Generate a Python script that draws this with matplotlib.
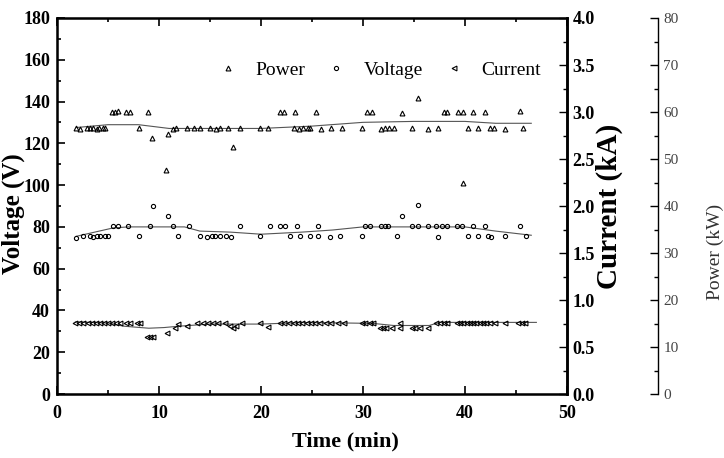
import numpy as np
import matplotlib.pyplot as plt
from matplotlib.ticker import MultipleLocator

plt.rcParams['font.family'] = ['Liberation Serif', 'DejaVu Serif']

# power points (min, kW)
power_t = [1.9, 2.3, 2.9, 3.2, 3.5, 3.9, 4.1, 4.5, 4.7, 8.0,
           5.4, 5.7, 6.0, 6.8, 7.2, 8.95,
           9.3, 10.9, 10.7, 17.3,
           11.4, 11.7, 12.7, 13.4, 14.0, 15.0, 15.6, 16.0, 16.8, 17.9, 19.9, 20.7,
           23.2, 23.7, 24.1, 24.6,
           21.9, 22.3, 23.3,
           25.4, 30.4, 30.9, 33.8, 37.9, 38.2, 39.3, 39.8, 40.8, 42.0, 45.4,
           35.4,
           24.8, 25.9, 26.9, 27.9, 29.9, 31.8, 32.2, 32.6, 33.0, 34.8, 36.4, 37.4,
           40.3, 41.3, 42.5, 42.8, 43.9, 45.7,
           39.8]
power_kw = [56.5, 56.4, 56.7, 56.5, 56.6, 56.4, 56.6, 56.5, 56.7, 56.6,
            60.1, 60.0, 60.2, 60.1, 60.0, 60.1,
            54.5, 55.3, 47.6, 52.6,
            56.4, 56.6, 56.5, 56.7, 56.5, 56.6, 56.4, 56.5, 56.6, 56.5, 56.6, 56.5,
            56.6, 56.4, 56.5, 56.6,
            60.1, 60.0, 60.1,
            60.1, 60.0, 60.1, 59.7, 60.1, 60.0, 60.1, 60.0, 60.1, 60.0, 60.2,
            62.9,
            56.5, 56.4, 56.6, 56.5, 56.6, 56.4, 56.5, 56.6, 56.5, 56.6, 56.4, 56.5,
            56.6, 56.5, 56.6, 56.5, 56.4, 56.6,
            45.0]

# voltage points (min, V)
voltage_t = [1.9, 2.6, 3.2, 3.5, 3.9, 4.2, 4.7, 5.0, 8.0, 11.9, 14.0, 14.7, 15.2,
             15.5, 16.0, 16.6, 17.1, 19.9, 22.8, 23.8,
             5.5, 6.0, 7.0, 9.1, 11.4, 12.9, 17.9, 20.9, 21.9, 22.4, 23.5,
             9.4, 10.9,
             24.8, 25.6, 26.8, 27.7, 29.9, 33.3, 37.4, 40.3, 41.3, 42.3, 42.6, 43.9, 46.0,
             25.6, 30.2, 30.7, 31.8, 32.2, 32.5, 34.8, 35.4, 36.4, 37.2, 37.7, 38.2,
             39.2, 39.7, 40.8, 42.0, 45.4,
             33.8, 35.4]
voltage_v = [74.8, 75.5, 75.6, 75.4, 75.6, 75.5, 75.6, 75.5, 75.5, 75.6, 75.5, 75.4, 75.6,
             75.5, 75.6, 75.5, 75.4, 75.6, 75.5, 75.5,
             80.3, 80.4, 80.3, 80.3, 80.4, 80.3, 80.4, 80.3, 80.4, 80.3, 80.3,
             90.0, 85.2,
             75.5, 75.6, 75.4, 75.5, 75.6, 75.5, 75.4, 75.5, 75.6, 75.5, 75.4, 75.5, 75.6,
             80.3, 80.4, 80.3, 80.3, 80.4, 80.3, 80.3, 80.4, 80.3, 80.4, 80.3, 80.3,
             80.4, 80.3, 80.3, 80.4, 80.3,
             85.2, 90.5]

# current points (min, kA)
current_t = [1.8, 2.2, 2.6, 3.0, 3.4, 3.8, 4.2, 4.6, 5.0, 5.4, 5.8, 6.2, 6.8, 7.2, 7.8, 8.1,
             8.8, 9.1, 9.4, 10.8, 11.6, 11.9,
             12.7, 13.7, 14.3, 14.8, 15.3, 15.8, 16.5, 17.0, 17.3, 17.6, 18.1, 19.9, 20.7,
             21.9, 22.3, 22.7, 23.2, 23.6, 24.0, 24.5,
             24.9, 25.3, 25.8, 26.4, 26.9, 27.6, 28.1, 29.9, 30.2, 30.7, 31.0,
             31.7, 32.0, 32.3, 32.8, 33.6, 34.8, 35.1, 35.6, 36.4, 33.6,
             37.2, 37.6, 37.9, 38.2, 39.2, 39.5, 39.8, 40.2, 40.5, 40.8, 41.1, 41.5,
             41.8, 42.1, 42.5, 42.9, 43.9, 45.2, 45.6, 45.9]
current_ka = [0.76, 0.76, 0.76, 0.76, 0.76, 0.76, 0.76, 0.76, 0.76, 0.76, 0.76, 0.76, 0.76, 0.76, 0.76, 0.76,
              0.61, 0.61, 0.61, 0.65, 0.70, 0.74,
              0.72, 0.76, 0.76, 0.76, 0.76, 0.76, 0.76, 0.72, 0.70, 0.72, 0.76, 0.76, 0.71,
              0.76, 0.76, 0.76, 0.76, 0.76, 0.76, 0.76,
              0.76, 0.76, 0.76, 0.76, 0.76, 0.76, 0.76, 0.76, 0.76, 0.76, 0.76,
              0.70, 0.70, 0.70, 0.70, 0.70, 0.70, 0.70, 0.70, 0.70, 0.76,
              0.76, 0.76, 0.76, 0.76, 0.76, 0.76, 0.76, 0.76, 0.76, 0.76, 0.76, 0.76,
              0.76, 0.76, 0.76, 0.76, 0.76, 0.76, 0.76, 0.76]

# smoothed trend lines
power_fit_t = [1.9, 5.0, 8.0, 9.5, 11.0, 15.0, 20.0, 25.0, 30.0, 35.0, 40.0, 43.0, 46.5]
power_fit_kw = [56.7, 57.3, 57.3, 56.9, 56.5, 56.5, 56.5, 57.0, 57.8, 58.0, 58.0, 57.6, 57.6]
voltage_fit_t = [1.9, 5.5, 7.0, 12.5, 14.0, 17.0, 20.0, 24.0, 27.0, 30.0, 35.0, 40.0, 43.0, 46.5]
voltage_fit_v = [75.5, 79.5, 80.0, 80.0, 78.0, 77.5, 76.5, 77.5, 78.5, 80.0, 80.0, 80.0, 78.0, 76.0]
current_fit_t = [1.8, 5.0, 6.5, 9.0, 10.5, 12.0, 15.0, 20.0, 24.0, 28.0, 31.0, 33.0, 36.5, 37.5, 47.0]
current_fit_ka = [0.767, 0.756, 0.722, 0.700, 0.707, 0.722, 0.744, 0.744, 0.760, 0.756, 0.751,
                  0.729, 0.729, 0.762, 0.762]

fig = plt.figure(figsize=(7.24, 4.58), dpi=100)
ax = fig.add_axes([0.0787, 0.1397, 0.7044, 0.821])
ax_c = ax.twinx()
ax_p = ax.twinx()
ax_p.spines['right'].set_position(('axes', 1.178))
for s in ['top', 'bottom', 'left']:
    ax_p.spines[s].set_visible(False)

tick_font = dict(fontsize=13, fontweight='bold')

lc = '#555555'
ax.plot(voltage_fit_t, voltage_fit_v, color=lc, lw=0.8)
ax_c.plot(current_fit_t, current_fit_ka, color=lc, lw=0.8)
ax_p.plot(power_fit_t, power_fit_kw, color=lc, lw=0.8)

hv, = ax.plot(voltage_t, voltage_v, 'o', ms=3, mfc='none', mec='black', mew=0.8, label='Voltage')
hc, = ax_c.plot(current_t, current_ka, '<', ms=3.5, mfc='none', mec='black', mew=0.8, label='Current')
hp, = ax_p.plot(power_t, power_kw, '^', ms=3.5, mfc='none', mec='black', mew=0.8, label='Power')

ax.xaxis.set_major_locator(MultipleLocator(10))
ax.xaxis.set_minor_locator(MultipleLocator(5))
ax.yaxis.set_major_locator(MultipleLocator(20))
ax.yaxis.set_minor_locator(MultipleLocator(10))
ax_c.yaxis.set_major_locator(MultipleLocator(0.5))
ax_c.yaxis.set_minor_locator(MultipleLocator(0.25))
ax_p.yaxis.set_major_locator(MultipleLocator(10))
ax_p.yaxis.set_minor_locator(MultipleLocator(5))

ax.tick_params(axis='both', which='both', direction='in', top=True, width=1.2)
ax.tick_params(which='major', length=6, pad=5)
ax.tick_params(axis='x', which='major', pad=8)
ax.tick_params(which='minor', length=3)
for a in (ax_c, ax_p):
    a.tick_params(axis='y', which='both', direction='in', width=1.0)
    a.tick_params(which='major', length=6, pad=4)
    a.tick_params(which='minor', length=3)

ax.set_xlim(0, 50)
ax.set_ylim(0, 180)
ax_c.set_ylim(0, 4)
ax_p.set_ylim(0, 80)

ax.set_yticks(np.arange(0, 181, 20))
ax.set_yticklabels([f'{v:g}' for v in ax.get_yticks()], **tick_font)
ax.set_xticks(np.arange(0, 51, 10))
ax.set_xticklabels([f'{v:g}' for v in ax.get_xticks()], **tick_font)
ax_c.set_yticks(np.arange(0, 4.01, 0.5))
ax_c.set_yticklabels([f'{v:.1f}' for v in ax_c.get_yticks()], **tick_font)
ax_p.set_yticks(np.arange(0, 81, 10))
ax_p.set_yticklabels([f'{v:g}' for v in ax_p.get_yticks()], fontsize=11, color='#444444')

for s in ax.spines.values():
    s.set_linewidth(1.8)
ax_c.spines['right'].set_linewidth(1.8)
ax_p.spines['right'].set_linewidth(1.0)

ax.set_xlabel('Time (min)', fontsize=16, fontweight='bold')
ax.xaxis.set_label_coords(0.565, -0.1)
ax.set_ylabel('Voltage (V)', fontsize=18, fontweight='bold')
ax.yaxis.set_label_coords(-0.062, 0.48)
ax_c.set_ylabel('Current (kA)', fontsize=21, fontweight='bold')
ax_c.yaxis.set_label_coords(1.057, 0.5)
fig.text(1.0, 0.45, 'Power (kW)', rotation=90, fontsize=14, color='#333333',
         ha='right', va='center')

fig.legend(handles=[hp, hv, hc], loc='center', bbox_to_anchor=(0.527, 0.847), ncol=3,
           frameon=False, fontsize=14, handlelength=0.6, handletextpad=1.1,
           columnspacing=1.3)

fig.savefig('out.png', dpi=100)
